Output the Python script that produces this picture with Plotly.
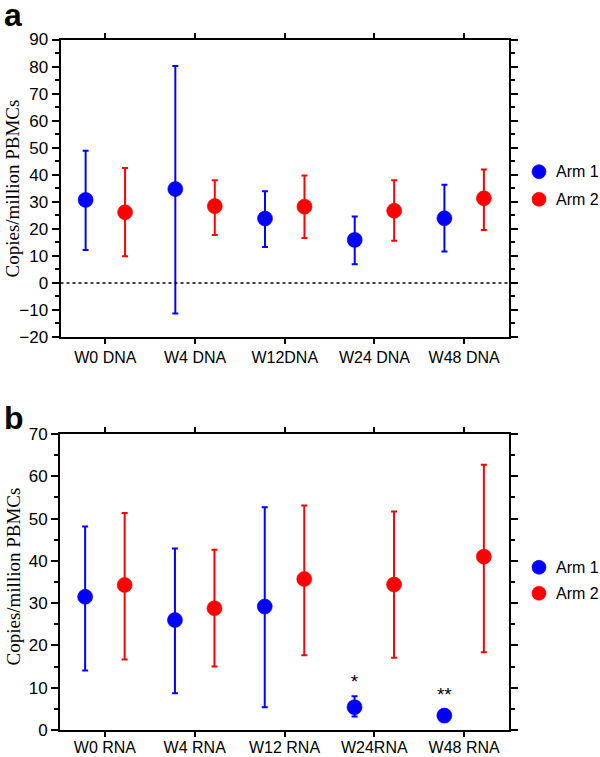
import plotly.graph_objects as go

# ---------------- data ----------------
dna_labels = ["W0 DNA", "W4 DNA", "W12DNA", "W24 DNA", "W48 DNA"]
dna_arm1 = [30.7, 34.7, 23.8, 15.9, 23.9]
dna_arm1_hi = [48.9, 80.2, 33.9, 24.6, 36.3]
dna_arm1_lo = [12.2, -11.3, 13.3, 6.9, 11.6]
dna_arm2 = [26.1, 28.4, 28.2, 26.7, 31.3]
dna_arm2_hi = [42.5, 38.0, 39.7, 38.0, 41.9]
dna_arm2_lo = [9.9, 17.7, 16.6, 15.6, 19.6]

rna_labels = ["W0 RNA", "W4 RNA", "W12 RNA", "W24RNA", "W48 RNA"]
rna_arm1 = [31.5, 26.0, 29.2, 5.4, 3.4]
rna_arm1_hi = [48.1, 42.9, 52.7, 8.0, 3.4]
rna_arm1_lo = [14.1, 8.7, 5.4, 3.2, 3.4]
rna_arm2 = [34.3, 28.8, 35.7, 34.4, 41.0]
rna_arm2_hi = [51.3, 42.6, 53.1, 51.7, 62.7]
rna_arm2_lo = [16.7, 15.0, 17.7, 17.1, 18.4]

sig_idx = [3, 4]
sig_text = ["*", "**"]
sig_y = [11.1, 7.9]

series_names = ["Arm 1", "Arm 2"]
colors = ["#0000FF", "#FF0000"]
offset = 0.22

W, H = 600, 757
SANS = "Liberation Sans, Arial, sans-serif"
TICKFONT = dict(family=SANS, size=17, color="black")
XTICKFONT = dict(family=SANS, size=16, color="black")


def errs(mid, hi, lo):
    return [h - m for h, m in zip(hi, mid)], [m - l for m, l in zip(mid, lo)]


fig = go.Figure()

panels = [
    ("x", "y", dna_labels, [(dna_arm1, dna_arm1_hi, dna_arm1_lo), (dna_arm2, dna_arm2_hi, dna_arm2_lo)]),
    ("x2", "y2", rna_labels, [(rna_arm1, rna_arm1_hi, rna_arm1_lo), (rna_arm2, rna_arm2_hi, rna_arm2_lo)]),
]

for xa, ya, labels, series in panels:
    for k, (mid, hi, lo) in enumerate(series):
        up, dn = errs(mid, hi, lo)
        xs = [i + (-offset if k == 0 else offset) for i in range(len(labels))]
        fig.add_trace(go.Scatter(
            x=xs, y=mid, mode="markers", name=series_names[k],
            xaxis=xa, yaxis=ya, showlegend=False,
            marker=dict(size=15, color=colors[k], line=dict(width=0.6, color=colors[k])),
            error_y=dict(type="data", symmetric=False, array=up, arrayminus=dn,
                         color=colors[k], thickness=2, width=3),
        ))

# significance asterisks (panel b, Arm 1)
fig.add_trace(go.Scatter(
    x=[i - offset for i in sig_idx], y=sig_y, mode="text", text=sig_text,
    textfont=dict(family=SANS, size=19, color="black"),
    xaxis="x2", yaxis="y2", showlegend=False, hoverinfo="skip",
))

xl, xr = 60.5 / W, 509 / W
axis_common = dict(showline=True, linecolor="black", linewidth=2, mirror="ticks",
                   ticks="outside", tickwidth=2, tickcolor="black", automargin=False,
                   showgrid=False, zeroline=False)


def yax(domain, rng, anchor):
    return dict(axis_common, domain=domain, range=rng, dtick=10, anchor=anchor, ticklen=7,
                tickfont=TICKFONT,
                minor=dict(ticks="outside", ticklen=4, tickwidth=1.5, dtick=5, tickcolor="black"))


def xax(labels, domain, anchor, standoff):
    return dict(axis_common, domain=domain, range=[-0.5, len(labels) - 0.5], anchor=anchor,
                ticklen=5, ticklabelstandoff=standoff, tickfont=XTICKFONT,
                tickvals=list(range(len(labels))), ticktext=labels)


fig.update_layout(
    width=W, height=H, margin=dict(l=0, r=0, t=0, b=0, autoexpand=False),
    paper_bgcolor="white", plot_bgcolor="white",
    xaxis=xax(dna_labels, [xl, xr], "y", 0),
    yaxis=yax([1 - 337 / H, 1 - 39.5 / H], [-20, 90], "x"),
    xaxis2=xax(rna_labels, [60 / W, xr], "y2", -3),
    yaxis2=yax([1 - 730 / H, 1 - 434 / H], [0, 70], "x2"),
    showlegend=False,
)

fig.add_shape(type="line", xref="x domain", yref="y", x0=0, x1=1, y0=0, y1=0,
              line=dict(color="black", width=1.5, dash="dot"))

# legends (symbol + label) for each panel, placed in page pixels
legend_rows = [(171.7, 199.3), (567.3, 593.3)]
sym_x, text_x, r = 539, 554, 7
for rows in legend_rows:
    for k, yc in enumerate(rows):
        fig.add_shape(type="circle", xref="paper", yref="paper",
                      x0=(sym_x - r) / W, x1=(sym_x + r) / W,
                      y0=1 - (yc + r) / H, y1=1 - (yc - r) / H,
                      fillcolor=colors[k], line=dict(color=colors[k], width=0.6))
        fig.add_annotation(text=series_names[k], x=text_x / W, y=1 - yc / H,
                           xref="paper", yref="paper", xanchor="left", yanchor="middle",
                           showarrow=False, font=dict(family=SANS, size=16, color="black"))

ann_title = dict(text="Copies/million PBMCs", textangle=-90, showarrow=False,
                 xref="paper", yref="paper", xanchor="left", yanchor="middle",
                 font=dict(family="Liberation Serif, Times New Roman, serif", size=19, color="black"))
fig.add_annotation(ann_title, x=0, y=1 - 189 / H)
fig.add_annotation(ann_title, x=0, y=1 - 577 / H)

panel_font = dict(family=SANS, size=32, color="black")
fig.add_annotation(text="<b>a</b>", x=2 / W, y=1 + 5 / H, xref="paper", yref="paper",
                   xanchor="left", yanchor="top", showarrow=False, font=panel_font)
fig.add_annotation(text="<b>b</b>", x=2 / W, y=1 - 398 / H, xref="paper", yref="paper",
                   xanchor="left", yanchor="top", showarrow=False, font=panel_font)

fig.write_html("out.html", config={"displayModeBar": False},
               post_script="document.body.style.margin='0';document.body.style.overflow='hidden';")
